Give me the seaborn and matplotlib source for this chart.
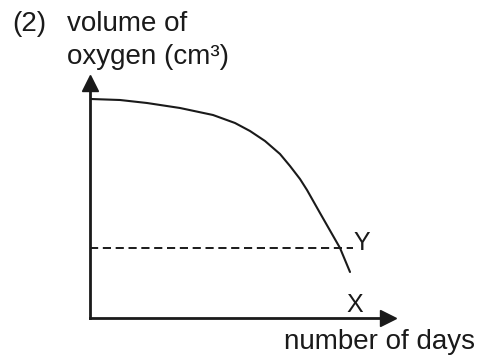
import numpy as np
import pandas as pd
import matplotlib
matplotlib.use("Agg")
import matplotlib.pyplot as plt
import seaborn as sns

# Values (arbitrary units, origin at the axes corner)
days = [1, 30, 57, 90, 123, 145, 160, 175, 190, 200, 210, 217, 230, 242, 250, 260]
oxygen = [219, 218, 215, 210, 203, 195, 187, 177, 164, 152, 139, 128, 105, 84, 70, 46]
level_y = 70          # dashed line Y
x_max, y_max = 303, 240

sns.set_style("white")
plt.rcParams['font.family'] = ['Liberation Sans', 'DejaVu Sans']

W, H = 485, 361
ink = '#1a1a1a'
fig = plt.figure(figsize=(W / 100, H / 100), dpi=100)
ax = fig.add_axes([90 / W, (H - 318) / H, x_max / W, y_max / H])

df = pd.DataFrame({'days': days, 'oxygen': oxygen})
sns.lineplot(data=df, x='days', y='oxygen', color=ink, linewidth=1.5, ax=ax,
             estimator=None, sort=False)
ax.plot([0, 263], [level_y, level_y], color=ink, linewidth=1.4,
        dashes=(4.2, 2.4))

ax.set_xlim(0, x_max)
ax.set_ylim(0, y_max)
ax.set_xticks([])
ax.set_yticks([])
ax.set_xlabel('')
ax.set_ylabel('')
for s in ['top', 'right']:
    ax.spines[s].set_visible(False)
for s in ['left', 'bottom']:
    ax.spines[s].set_linewidth(2)
    ax.spines[s].set_color(ink)

# arrow heads at the ends of the axes
ax.plot(0, y_max - 5, marker='^', markersize=11, color=ink, clip_on=False)
ax.plot(x_max - 5, 0, marker='>', markersize=11, color=ink, clip_on=False)

ax.text(263, level_y + 5, 'Y', fontsize=18, va='center', ha='left', color=ink)
ax.text(265, 13, 'X', fontsize=18, va='center', ha='center', color=ink)

fig.text(12 / W, 1 - 24 / H, '(2)', fontsize=20, va='center', ha='left', color=ink)
fig.text(67 / W, 1 - 24 / H, 'volume of', fontsize=20, va='center', ha='left', color=ink)
fig.text(67 / W, 1 - 57 / H, 'oxygen (cm³)', fontsize=20, va='center', ha='left', color=ink)
fig.text(284 / W, 1 - 342 / H, 'number of days', fontsize=20, va='center', ha='left', color=ink)

fig.savefig('out.png', dpi=100)
